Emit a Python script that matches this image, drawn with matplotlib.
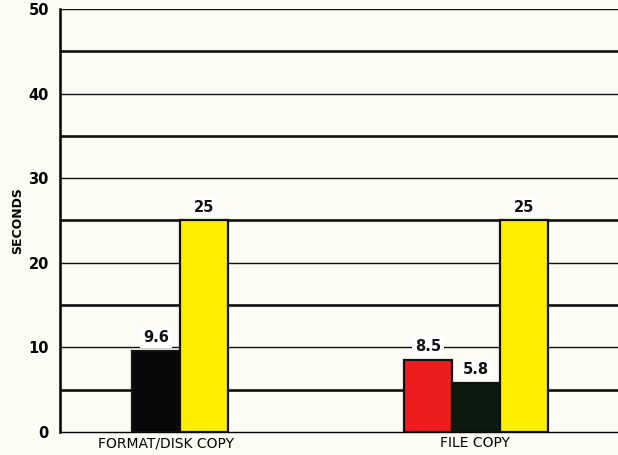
import matplotlib
matplotlib.use("Agg")
import matplotlib.pyplot as plt

# 数据
categories = ["FORMAT/DISK COPY", "FILE COPY"]
red_vals = [None, 8.5]
dark_vals = [9.6, 5.8]
yellow_vals = [25, 25]
y_ticks = [0, 10, 20, 30, 40, 50]

# 每组三个槽位：红、黑、黄
group_start = [1.0, 7.65]
label_pos = [2.2, 8.63]
dark_colors = ["#080808", "#0d1a10"]
bg = "#fcfcf4"

fig = plt.figure(figsize=(6.18, 4.55), dpi=100)
fig.patch.set_facecolor(bg)
ax = fig.add_axes([60 / 618, 23 / 455, 558 / 618, 423 / 455])
ax.set_facecolor(bg)

# 网格线：10 的倍数细，5 的奇数倍粗
for v in range(5, 51, 5):
    lw = 1.0 if v % 10 == 0 else 1.9
    ax.axhline(v, color="#111111", lw=lw, zorder=1)

series = [(red_vals, ["#ee1c1c"] * 2, 0), (dark_vals, dark_colors, 1), (yellow_vals, ["#fdee00"] * 2, 2)]
for vals, colors, slot in series:
    for i, v in enumerate(vals):
        if v is None:
            continue
        x = group_start[i] + slot
        ax.bar(x, v, width=1.0, color=colors[i], edgecolor="#111111", lw=1.6, zorder=3)
        ax.text(x, v + 0.7, f"{v:g}", ha="center", va="bottom", fontsize=10.5,
                fontweight="bold", color="#111111", zorder=4,
                bbox=dict(boxstyle="square,pad=0.2", fc="white", ec="none"))

ax.set_xlim(0, 11.6)
ax.set_ylim(0, 50)
ax.set_yticks(y_ticks)
ax.set_yticklabels([str(t) for t in y_ticks], fontsize=10.5, fontweight="bold")
ax.set_xticks(label_pos)
ax.set_xticklabels(categories, fontsize=10)
ax.tick_params(length=0, pad=3)
ax.tick_params(axis="y", pad=8)
ax.set_ylabel("SECONDS", fontsize=9, fontweight="bold", labelpad=3)

for s in ["top", "right"]:
    ax.spines[s].set_visible(False)
ax.spines["left"].set_linewidth(1.8)
ax.spines["bottom"].set_linewidth(1.0)

fig.savefig("out.png", dpi=100, facecolor=bg)
